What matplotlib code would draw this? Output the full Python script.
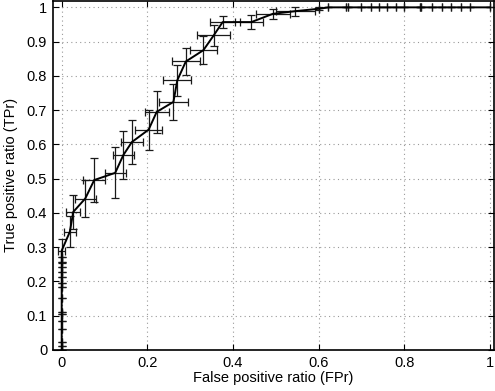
import matplotlib
matplotlib.use("Agg")
import matplotlib.pyplot as plt

plt.rcParams['font.family'] = ['Liberation Sans', 'DejaVu Sans']

# ROC points: false positive ratio, true positive ratio and their spreads
fpr = [0, 0, 0, 0, 0, 0, 0, 0, 0, 0, 0, 0, 0, 0, 0,
       0.0, 0.019, 0.027, 0.055, 0.076, 0.125, 0.144, 0.164, 0.203, 0.222,
       0.261, 0.270, 0.290, 0.331, 0.355, 0.376, 0.443, 0.493, 0.546, 0.602,
       0.623, 0.665, 0.670, 0.699, 0.723, 0.741, 0.760, 0.780, 0.799, 0.836,
       0.839, 0.865, 0.889, 0.910, 0.932, 0.953, 1.0]
tpr = [0, 0.012, 0.022, 0.061, 0.085, 0.105, 0.110, 0.152, 0.183, 0.195,
       0.212, 0.227, 0.243, 0.257, 0.272,
       0.290, 0.345, 0.403, 0.442, 0.496, 0.517, 0.569, 0.607, 0.643, 0.695,
       0.724, 0.787, 0.842, 0.875, 0.918, 0.957, 0.957, 0.981, 0.989, 0.996,
       1, 1, 1, 1, 1, 1, 1, 1, 1, 1, 1, 1, 1, 1, 1, 1, 1]
fpr_err = [0] * 15 + [0.008, 0.014, 0.016, 0.024, 0.026, 0.025, 0.025, 0.025,
                      0.031, 0.028, 0.033, 0.033, 0.033, 0.031, 0.038, 0.03,
                      0.027, 0.04, 0.045, 0.0] + [0] * 17
tpr_err = [0] * 15 + [0.035, 0.045, 0.05, 0.055, 0.065, 0.074, 0.07, 0.065,
                      0.058, 0.061, 0.052, 0.046, 0.039, 0.04, 0.03, 0.018,
                      0.02, 0.015, 0.013, 0.004] + [0] * 17

xticks = [0, 0.2, 0.4, 0.6, 0.8, 1]
xtick_labels = ['0', '0.2', '0.4', '0.6', '0.8', '1']
yticks = [0, 0.1, 0.2, 0.3, 0.4, 0.5, 0.6, 0.7, 0.8, 0.9, 1]
ytick_labels = ['0', '0.1', '0.2', '0.3', '0.4', '0.5', '0.6', '0.7', '0.8', '0.9', '1']

fig = plt.figure(figsize=(4.95, 3.91), dpi=100)
ax = fig.add_axes([0.1065, 0.1049, 0.8915, 0.8938])

ax.errorbar(fpr, tpr, xerr=fpr_err, yerr=tpr_err, color='black',
            ecolor='#1a1a1a', elinewidth=0.9, capsize=2.6, capthick=0.9,
            linewidth=1.4)

ax.set_xlim(-0.021, 1.01)
ax.set_ylim(0, 1.02)
ax.set_xticks(xticks)
ax.set_xticklabels(xtick_labels)
ax.set_yticks(yticks)
ax.set_yticklabels(ytick_labels)
ax.grid(True, linestyle=(0, (1, 3)), color='#999999', linewidth=0.8)
ax.tick_params(direction='in', top=True, right=True, length=4, width=0.8,
               labelsize=10.5, pad=4)
for s in ax.spines.values():
    s.set_linewidth(1.2)

ax.set_xlabel('False positive ratio (FPr)', fontsize=10.5, labelpad=1)
ax.set_ylabel('True positive ratio (TPr)', fontsize=10.5, labelpad=6)

fig.savefig('out.png', dpi=100)
